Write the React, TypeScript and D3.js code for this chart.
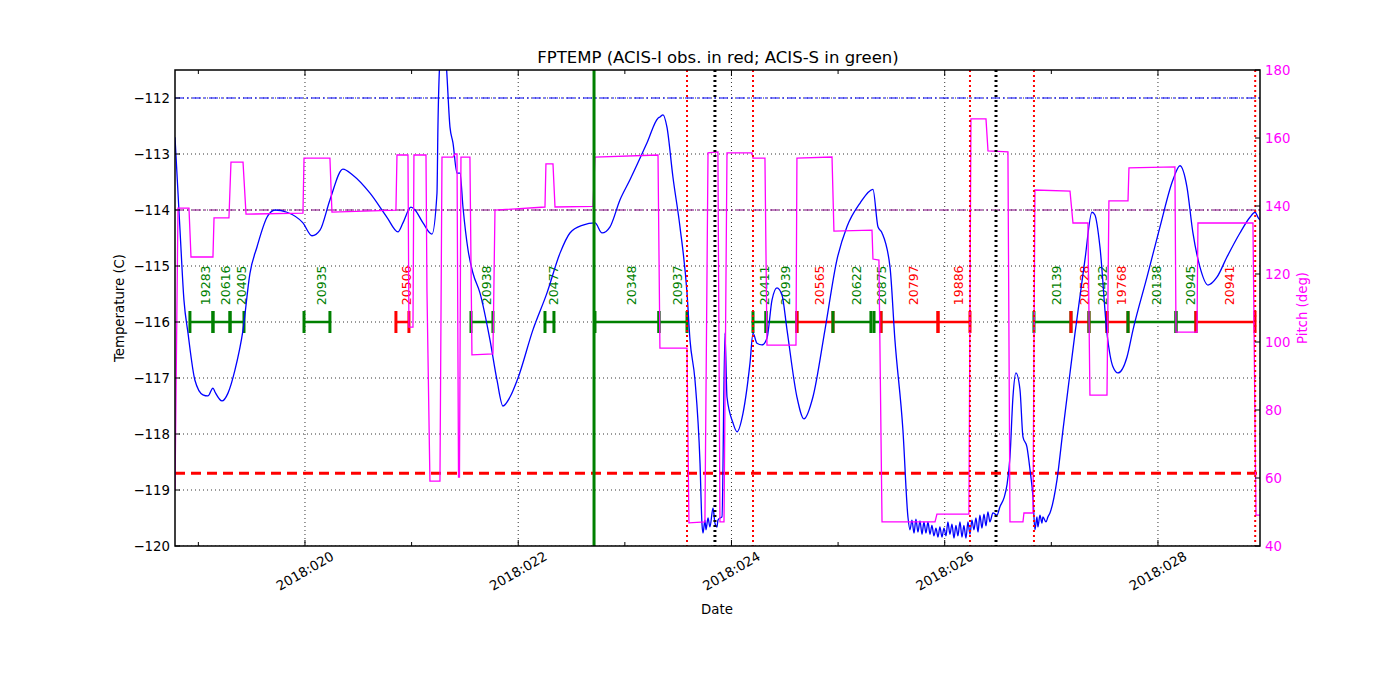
import React, { useEffect, useRef } from "react";
import * as d3 from "d3";

// FPTEMP (deg C) vs day of year 2018
const tempDay = [
  18.781, 18.828, 18.865, 18.903, 18.968, 19.043, 19.09, 19.137, 19.156, 19.222, 19.278, 19.343, 19.419, 19.484,
  19.55, 19.644, 19.719, 19.831, 19.981, 20.066, 20.141, 20.234, 20.356, 20.45, 20.61, 20.769, 20.872, 20.919,
  20.994, 21.032, 21.107, 21.191, 21.238, 21.247, 21.266, 21.294, 21.322, 21.36, 21.388, 21.426, 21.454, 21.482,
  21.529, 21.576, 21.641, 21.735, 21.801, 21.857, 21.923, 21.998, 22.138, 22.27, 22.392, 22.485, 22.607, 22.72,
  22.786, 22.861, 22.954, 23.048, 23.208, 23.311, 23.329, 23.358, 23.395, 23.451, 23.517, 23.583, 23.611, 23.658,
  23.705, 23.723, 23.733, 23.751, 23.761, 23.78, 23.798, 23.827, 23.845, 23.864, 23.873, 23.892, 23.911, 23.939,
  23.958, 24.014, 24.052, 24.108, 24.174, 24.202, 24.239, 24.286, 24.333, 24.38, 24.427, 24.474, 24.521, 24.614,
  24.68, 24.764, 24.877, 24.989, 25.083, 25.205, 25.327, 25.374, 25.412, 25.487, 25.533, 25.608,
  25.655, 25.674, 25.693, 25.712, 25.73, 25.749, 25.768, 25.787, 25.805, 25.824, 25.843, 25.862, 25.88, 25.899,
  25.918, 25.937, 25.955, 25.974, 25.993, 26.012, 26.03, 26.049, 26.068, 26.087, 26.105, 26.124, 26.143, 26.162,
  26.18, 26.199, 26.218, 26.237, 26.255, 26.274, 26.293, 26.312, 26.33, 26.349, 26.368, 26.387, 26.405, 26.424,
  26.452, 26.49, 26.518, 26.556, 26.584, 26.612, 26.64, 26.668, 26.706, 26.734, 26.771, 26.8, 26.828, 26.846,
  26.865, 26.874, 26.893, 26.912, 26.921, 26.95, 26.968, 26.987, 27.053, 27.109, 27.175, 27.222, 27.315, 27.381,
  27.409, 27.456, 27.522, 27.578, 27.625, 27.709, 27.766, 27.897, 28.019, 28.141, 28.206, 28.272, 28.328, 28.394,
  28.469, 28.553, 28.647, 28.769, 28.863, 28.91, 28.938, 28.957,
];
const tempVal = [
  -112.7, -114.36, -115.61, -116.2, -117.04, -117.3, -117.32, -117.18, -117.25, -117.41, -117.27, -116.86, -116.14,
  -115.13, -114.66, -114.13, -114.0, -114.04, -114.23, -114.46, -114.36, -113.82, -113.27, -113.38, -113.7, -114.13,
  -114.39, -114.23, -113.95, -114.0, -114.23, -114.43, -113.7, -112.52, -111.32, -110.96, -111.32, -112.52, -112.8,
  -113.34, -113.34, -113.95, -114.71, -115.13, -115.48, -116.32, -117.04, -117.5, -117.34, -117.0, -116.14, -115.48,
  -114.77, -114.41, -114.27, -114.23, -114.41, -114.3, -113.82, -113.46, -112.8, -112.36, -112.34, -112.3, -112.52,
  -113.41, -114.3, -115.48, -116.32, -117.04, -118.52, -119.59, -119.77, -119.54, -119.71, -119.5, -119.66, -119.32,
  -119.59, -119.66, -119.54, -119.5, -119.48, -116.2, -117.34, -117.8, -117.96, -117.63, -116.73, -116.2, -116.38,
  -116.41, -116.29, -115.61, -115.39, -115.52, -116.14, -117.34, -117.73, -117.34, -116.14, -114.89, -114.3, -113.88,
  -113.63, -114.3, -114.41, -115.02, -116.32, -117.93,
  -119.48, -119.71, -119.54, -119.77, -119.52, -119.75, -119.55, -119.79, -119.57, -119.77, -119.57, -119.79, -119.63,
  -119.82, -119.68, -119.84, -119.66, -119.84, -119.68, -119.82, -119.57, -119.79, -119.61, -119.86, -119.63, -119.82,
  -119.57, -119.84, -119.63, -119.86, -119.57, -119.79, -119.54, -119.71, -119.5, -119.75, -119.45, -119.68, -119.43,
  -119.64, -119.39, -119.57, -119.41, -119.45, -119.3, -119.14, -118.91, -118.41, -117.34, -116.91, -117.21, -118.05,
  -118.23, -118.64, -119.13, -119.71, -119.48, -119.66, -119.45, -119.59, -119.48, -119.57, -119.48, -119.41, -118.82,
  -117.93, -116.91, -116.2, -114.89, -114.04, -114.09, -114.66, -116.2, -116.8, -116.91, -116.63, -116.14, -115.2,
  -114.3, -113.46, -113.21, -113.59, -114.41, -115.02, -115.34, -115.2, -114.84, -114.41, -114.13, -114.04, -114.13,
  -114.18,
];

// pitch (deg) vs day of year
const pitchDay = [
  18.781, 18.809, 18.912, 18.931, 19.137, 19.147, 19.287, 19.306, 19.419, 19.447, 19.981, 19.991, 20.234, 20.253,
  20.853, 20.863, 20.966, 20.975, 21.013, 21.022, 21.135, 21.144, 21.172, 21.266, 21.285, 21.388, 21.407, 21.426,
  21.44, 21.449, 21.463, 21.547, 21.566, 21.763, 21.782, 22.251, 22.26, 22.326, 22.345, 22.701, 22.72, 23.311,
  23.329, 23.583, 23.601, 23.751, 23.78, 23.873, 23.892, 23.93, 23.958, 24.192, 24.202, 24.314, 24.333, 24.605,
  24.614, 24.943, 24.961, 25.318, 25.327, 25.383, 25.412, 25.909, 25.927, 26.227, 26.246, 26.387, 26.406, 26.593,
  26.612, 26.734, 26.743, 26.828, 26.846, 27.175, 27.203, 27.343, 27.362, 27.522, 27.54, 27.719, 27.728, 28.159,
  28.169, 28.366, 28.375, 28.891, 28.919, 28.957,
];
const pitchVal = [
  56.5, 139.4, 139.4, 125.0, 125.0, 136.5, 136.5, 152.9, 152.9, 137.6, 137.9, 154.1, 154.1, 138.2, 138.8, 155.0,
  155.0, 104.4, 104.4, 155.0, 155.0, 115.3, 59.1, 59.1, 154.4, 154.4, 155.3, 155.3, 60.3, 60.3, 154.4, 154.4, 96.2,
  96.5, 138.8, 139.7, 152.4, 152.4, 139.7, 139.9, 154.4, 155.0, 98.2, 98.2, 46.8, 47.1, 155.6, 155.9, 47.1, 47.1,
  155.6, 155.6, 154.1, 154.1, 99.1, 99.1, 154.1, 154.4, 132.6, 132.9, 124.4, 124.1, 47.1, 47.1, 49.4, 49.4, 165.6,
  165.6, 156.2, 155.9, 47.1, 47.1, 49.7, 49.7, 144.7, 144.4, 135.0, 135.0, 84.4, 84.4, 141.5, 141.5, 151.2, 151.5,
  102.9, 102.9, 135.0, 135.0, 49.1, 49.1,
];

// observations
const obsIds = [
  "19283", "20616", "20405", "20935", "20506", "20938", "20477", "20348", "20937", "20411", "20939", "20565",
  "20622", "20875", "20797", "19886", "20139", "20528", "20432", "19768", "20138", "20945", "20941",
];
const obsStart = [
  18.921, 19.137, 19.297, 19.991, 20.853, 21.557, 22.251, 22.72, 23.32, 24.202, 24.324, 24.614, 24.952, 25.337,
  25.402, 25.937, 26.837, 27.184, 27.353, 27.522, 27.719, 28.169, 28.356,
];
const obsStop = [
  19.137, 19.297, 19.428, 20.234, 20.975, 21.763, 22.335, 23.32, 23.583, 24.324, 24.614, 24.952, 25.308, 25.402,
  25.937, 26.237, 27.184, 27.353, 27.522, 27.719, 28.169, 28.356, 28.91,
];
const obsInstr = ["S", "S", "S", "S", "I", "S", "S", "S", "S", "S", "S", "I", "S", "S", "I", "I", "S", "I", "S", "I", "S", "S", "I"];

const dayTicks = [20, 22, 24, 26, 28];
const dayTickLabels = ["2018:020", "2018:022", "2018:024", "2018:026", "2018:028"];
const dayMinorTicks = [19, 21, 23, 25, 27];
const tempTicks = [-120, -119, -118, -117, -116, -115, -114, -113, -112];
const pitchTicks = [40, 60, 80, 100, 120, 140, 160, 180];

const planLimit = -112;
const midLimit = -114;
const acisILimit = -118.7;
const obsLevel = -116;
const obsLabelLevel = -115.7;
const greenLineDay = 22.711;
const redDotDays = [23.583, 24.202, 26.237, 26.837, 28.912];
const blackDotDays = [23.845, 26.481];

const FONT = "DejaVu Sans, sans-serif";
const GREEN = "#008000";

export default function App() {
  const ref = useRef<SVGSVGElement>(null);
  useEffect(() => {
    const svg = d3.select(ref.current);
    svg.selectAll("*").remove();
    const L = 175, R = 1260, T = 70, B = 546;
    const x = d3.scaleLinear().domain([18.781, 28.957]).range([L, R]);
    const y = d3.scaleLinear().domain([-120, -111.5]).range([B, T]);
    const y2 = d3.scaleLinear().domain([40, 180]).range([B, T]);
    const minus = (v: number) => `${v}`.replace("-", "\u2212");

    svg.append("rect").attr("width", 1400).attr("height", 700).attr("fill", "white");
    svg.append("clipPath").attr("id", "plot").append("rect")
      .attr("x", L).attr("y", T).attr("width", R - L).attr("height", B - T);

    const g = svg.append("g").attr("clip-path", "url(#plot)");

    // grid
    g.selectAll(".hg").data(tempTicks).join("line")
      .attr("x1", L).attr("x2", R).attr("y1", d => y(d)).attr("y2", d => y(d))
      .attr("stroke", "black").attr("stroke-width", 0.8).attr("stroke-dasharray", "1,3");
    g.selectAll(".vg").data(dayTicks).join("line")
      .attr("x1", d => x(d)).attr("x2", d => x(d)).attr("y1", T).attr("y2", B)
      .attr("stroke", "black").attr("stroke-width", 0.8).attr("stroke-dasharray", "1,3");

    // limit lines
    const hline = (v: number, color: string, w: number, dash: string) =>
      g.append("line").attr("x1", L).attr("x2", R).attr("y1", y(v)).attr("y2", y(v))
        .attr("stroke", color).attr("stroke-width", w).attr("stroke-dasharray", dash);
    hline(planLimit, "blue", 1.2, "9,3,2,3");
    hline(midLimit, "#800080", 1.2, "9,3,2,3");
    hline(acisILimit, "red", 3, "10,6");

    // observation bars
    const obs = obsIds.map((id, i) => ({ id, s: obsStart[i], e: obsStop[i], c: obsInstr[i] === "I" ? "red" : GREEN }));
    g.selectAll(".ob").data(obs).join("line")
      .attr("x1", d => x(d.s)).attr("x2", d => x(d.e)).attr("y1", y(obsLevel)).attr("y2", y(obsLevel))
      .attr("stroke", d => d.c).attr("stroke-width", 2.5);
    const ends = obs.flatMap(d => [{ t: d.s, c: d.c }, { t: d.e, c: d.c }]);
    g.selectAll(".oe").data(ends).join("line")
      .attr("x1", d => x(d.t)).attr("x2", d => x(d.t))
      .attr("y1", y(obsLevel) - 11).attr("y2", y(obsLevel) + 11)
      .attr("stroke", d => d.c).attr("stroke-width", 3);
    g.selectAll(".ol").data(obs).join("text")
      .attr("transform", d => `translate(${x((d.s + d.e) / 2) + 9},${y(obsLabelLevel)}) rotate(-90)`)
      .attr("font-family", FONT).attr("font-size", 12.5).attr("fill", d => d.c)
      .text(d => d.id);

    // temperature
    const tpts = tempDay.map((d, i) => [d, tempVal[i]] as [number, number]);
    const tline = d3.line<[number, number]>().x(d => x(d[0])).y(d => y(d[1])).curve(d3.curveMonotoneX);
    g.append("path").attr("d", tline(tpts)).attr("fill", "none").attr("stroke", "blue").attr("stroke-width", 1.3);

    // pitch
    const ppts = pitchDay.map((d, i) => [d, pitchVal[i]] as [number, number]);
    const pline = d3.line<[number, number]>().x(d => x(d[0])).y(d => y2(d[1]));
    g.append("path").attr("d", pline(ppts)).attr("fill", "none").attr("stroke", "magenta").attr("stroke-width", 1.3);

    // vertical markers
    g.append("line").attr("x1", x(greenLineDay)).attr("x2", x(greenLineDay)).attr("y1", T).attr("y2", B)
      .attr("stroke", GREEN).attr("stroke-width", 3);
    g.selectAll(".rd").data(redDotDays).join("line")
      .attr("x1", d => x(d)).attr("x2", d => x(d)).attr("y1", T).attr("y2", B)
      .attr("stroke", "red").attr("stroke-width", 2).attr("stroke-dasharray", "2,3");
    g.selectAll(".bd").data(blackDotDays).join("line")
      .attr("x1", d => x(d)).attr("x2", d => x(d)).attr("y1", T).attr("y2", B)
      .attr("stroke", "black").attr("stroke-width", 3).attr("stroke-dasharray", "2,3");

    // frame
    svg.append("rect").attr("x", L).attr("y", T).attr("width", R - L).attr("height", B - T)
      .attr("fill", "none").attr("stroke", "black").attr("stroke-width", 1.5);

    // ticks
    const tk = svg.append("g").attr("stroke", "black").attr("stroke-width", 1);
    tempTicks.forEach(v => {
      tk.append("line").attr("x1", L).attr("x2", L + 5).attr("y1", y(v)).attr("y2", y(v));
    });
    pitchTicks.forEach(v => {
      tk.append("line").attr("x1", R).attr("x2", R - 5).attr("y1", y2(v)).attr("y2", y2(v));
    });
    dayTicks.forEach(v => {
      tk.append("line").attr("x1", x(v)).attr("x2", x(v)).attr("y1", B).attr("y2", B - 6);
      tk.append("line").attr("x1", x(v)).attr("x2", x(v)).attr("y1", T).attr("y2", T + 6);
    });
    dayMinorTicks.forEach(v => {
      tk.append("line").attr("x1", x(v)).attr("x2", x(v)).attr("y1", B).attr("y2", B - 4);
      tk.append("line").attr("x1", x(v)).attr("x2", x(v)).attr("y1", T).attr("y2", T + 4);
    });

    // tick labels
    svg.selectAll(".tl").data(tempTicks).join("text")
      .attr("x", L - 5).attr("y", d => y(d)).attr("dy", "0.35em").attr("text-anchor", "end")
      .attr("font-family", FONT).attr("font-size", 13.3).attr("fill", "black").text(d => minus(d));
    svg.selectAll(".pl").data(pitchTicks).join("text")
      .attr("x", R + 5).attr("y", d => y2(d)).attr("dy", "0.35em").attr("text-anchor", "start")
      .attr("font-family", FONT).attr("font-size", 13.3).attr("fill", "magenta").text(d => `${d}`);
    svg.selectAll(".dl").data(dayTicks).join("text")
      .attr("transform", d => `translate(${x(d)},${571}) rotate(-30)`)
      .attr("dy", "0.35em").attr("text-anchor", "middle")
      .attr("font-family", FONT).attr("font-size", 13.3).attr("fill", "black")
      .text((d, i) => dayTickLabels[i]);

    // axis titles
    svg.append("text").attr("x", 717).attr("y", 614).attr("text-anchor", "middle")
      .attr("font-family", FONT).attr("font-size", 13.3).text("Date");
    svg.append("text").attr("transform", "translate(124,308) rotate(-90)").attr("text-anchor", "middle")
      .attr("font-family", FONT).attr("font-size", 13.3).text("Temperature (C)");
    svg.append("text").attr("transform", "translate(1307,308) rotate(-90)").attr("text-anchor", "middle")
      .attr("font-family", FONT).attr("font-size", 13.3).attr("fill", "magenta").text("Pitch (deg)");
    svg.append("text").attr("x", 718).attr("y", 63).attr("text-anchor", "middle")
      .attr("font-family", FONT).attr("font-size", 16.5).text("FPTEMP (ACIS-I obs. in red; ACIS-S in green)");
  }, []);

  return (
    <svg ref={ref} width={1400} height={700} style={{ position: "absolute", left: 0, top: 0 }}></svg>
  );
}
